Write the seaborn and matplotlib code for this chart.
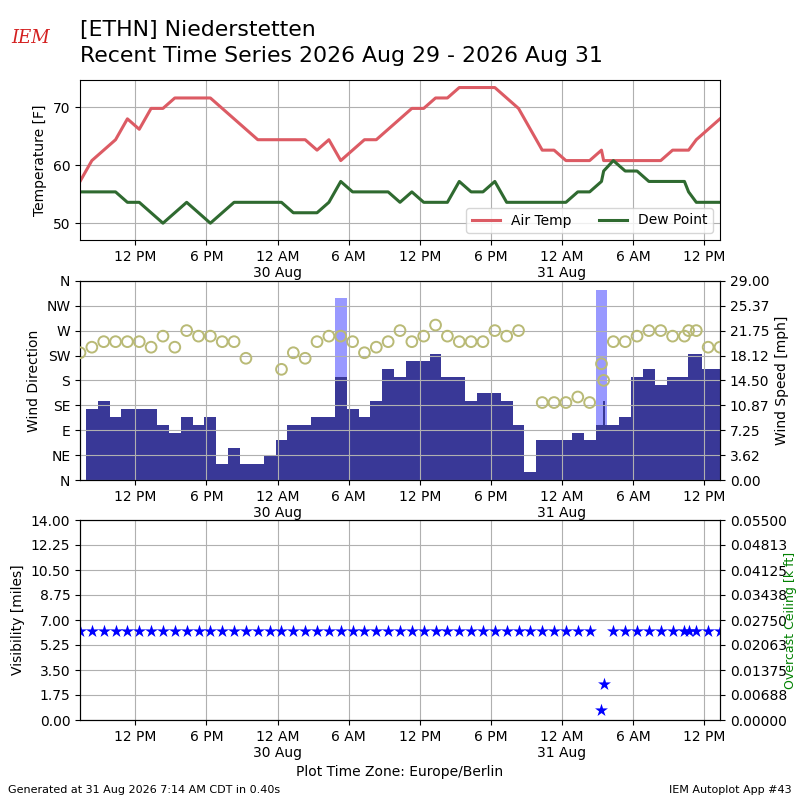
import numpy as np
import pandas as pd
import matplotlib
matplotlib.use("Agg")
import matplotlib.pyplot as plt
import matplotlib.dates as mdates
import seaborn as sns

nan = np.nan

# ---------------- data ----------------
station_title = "[ETHN] Niederstetten"
sub_title = "Recent Time Series 2026 Aug 29 - 2026 Aug 31"
footer_left = "Generated at 31 Aug 2026 7:14 AM CDT in 0.40s"
footer_right = "IEM Autoplot App #43"
tz_label = "Plot Time Zone: Europe/Berlin"

hourly_times = pd.date_range("2026-08-29 07:20", "2026-08-31 13:20", freq="h")
special_times = pd.to_datetime(["2026-08-31 03:31", "2026-08-31 10:41"])
obs_times = hourly_times.append(special_times).sort_values()

air_temp_f = [57.2, 60.8, 62.6, 64.4, 68.0, 66.2, 69.8, 69.8, 71.6, 71.6,
              71.6, 71.6, 69.8, 68.0, 66.2, 64.4, 64.4, 64.4, 64.4, 64.4,
              62.6, 64.4, 60.8, 62.6, 64.4, 64.4, 66.2, 68.0, 69.8, 69.8,
              71.6, 71.6, 73.4, 73.4, 73.4, 73.4, 71.6, 69.8, 66.2, 62.6,
              62.6, 60.8, 60.8, 60.8, 62.6, 60.8, 60.8, 60.8, 60.8, 60.8,
              60.8, 62.6, 62.6, 62.6, 64.4, 66.2, 68.0]

dew_point_f = [55.4, 55.4, 55.4, 55.4, 53.6, 53.6, 51.8, 50.0, 51.8, 53.6,
               51.8, 50.0, 51.8, 53.6, 53.6, 53.6, 53.6, 53.6, 51.8, 51.8,
               51.8, 53.6, 57.2, 55.4, 55.4, 55.4, 55.4, 53.6, 55.4, 53.6,
               53.6, 53.6, 57.2, 55.4, 55.4, 57.2, 53.6, 53.6, 53.6, 53.6,
               53.6, 53.6, 55.4, 55.4, 57.2, 59.0, 60.8, 59.0, 59.0, 57.2,
               57.2, 57.2, 57.2, 55.4, 53.6, 53.6, 53.6]

wind_speed_kt = [nan, 9, 10, 8, 9, 9, 9, 7, 6, 8,
                 7, 8, 2, 4, 2, 2, 3, 5, 7, 7,
                 8, 8, 13, 9, 8, 10, 14, 13, 15, 15,
                 16, 13, 13, 10, 11, 11, 10, 7, 1, 5,
                 5, 5, 6, 5, 7, 10, 7, 8, 13, 14,
                 12, 13, 13, 16, 16, 14, 14]

wind_gust_kt = [nan, nan, nan, nan, nan, nan, nan, nan, nan, nan,
                nan, nan, nan, nan, nan, nan, nan, nan, nan, nan,
                nan, nan, 23, nan, nan, nan, nan, nan, nan, nan,
                nan, nan, nan, nan, nan, nan, nan, nan, nan, nan,
                nan, nan, nan, nan, 24, nan, nan, nan, nan, nan,
                nan, nan, nan, nan, nan, nan, nan]

wind_dir_deg = [230, 240, 250, 250, 250, 250, 240, 260, 240, 270,
                260, 260, 250, 250, 220, nan, nan, 200, 230, 220,
                250, 260, 260, 250, 230, 240, 250, 270, 250, 260,
                280, 260, 250, 250, 250, 270, 260, 270, nan, 140,
                140, 140, 150, 140, 210, 180, 250, 250, 260, 270,
                270, 260, 260, 270, 270, 240, 240]

visibility_mi = [6.21, 6.21, 6.21, 6.21, 6.21, 6.21, 6.21, 6.21, 6.21, 6.21,
                 6.21, 6.21, 6.21, 6.21, 6.21, 6.21, 6.21, 6.21, 6.21, 6.21,
                 6.21, 6.21, 6.21, 6.21, 6.21, 6.21, 6.21, 6.21, 6.21, 6.21,
                 6.21, 6.21, 6.21, 6.21, 6.21, 6.21, 6.21, 6.21, 6.21, 6.21,
                 6.21, 6.21, 6.21, 6.21, 0.68, 2.49, 6.21, 6.21, 6.21, 6.21,
                 6.21, 6.21, 6.21, 6.21, 6.21, 6.21, 6.21]

x_tick_times = ["2026-08-29 12:00", "2026-08-29 18:00", "2026-08-30 00:00",
                "2026-08-30 06:00", "2026-08-30 12:00", "2026-08-30 18:00",
                "2026-08-31 00:00", "2026-08-31 06:00", "2026-08-31 12:00"]
x_tick_labels = ["12 PM", "6 PM", "12 AM\n30 Aug", "6 AM", "12 PM", "6 PM",
                 "12 AM\n31 Aug", "6 AM", "12 PM"]
temp_ticks = [50, 60, 70]
dir_tick_labels = ["N", "NE", "E", "SE", "S", "SW", "W", "NW", "N"]
speed_tick_labels = ["0.00", "3.62", "7.25", "10.87", "14.50", "18.12",
                     "21.75", "25.37", "29.00"]
vis_tick_labels = ["0.00", "1.75", "3.50", "5.25", "7.00", "8.75", "10.50",
                   "12.25", "14.00"]
ceil_tick_labels = ["0.00000", "0.00688", "0.01375", "0.02063", "0.02750",
                    "0.03438", "0.04125", "0.04813", "0.05500"]

# ---------------- derived ----------------
KT2MPH = 1.15078
xnum = mdates.date2num(obs_times.to_pydatetime())
spd_mph = np.array(wind_speed_kt, float) * KT2MPH
gst_mph = np.array(wind_gust_kt, float) * KT2MPH
is_special = np.asarray(obs_times.minute != 20)
bar_w = np.where(is_special, 10 / 1440.0, 1 / 24.0)
xticks = mdates.date2num(pd.to_datetime(x_tick_times).to_pydatetime())
xlim = (xnum.min(), xnum.max())

C_TEMP = "#dc5b64"
C_DEW = "#2f6a30"
C_SPD = "#393897"
C_GST = "#9999ff"
C_DIR = "#b9ba76"

fig = plt.figure(figsize=(8, 8), dpi=100)

def style_x(ax):
    ax.set_xlim(*xlim)
    ax.set_xticks(xticks)
    ax.set_xticklabels(x_tick_labels)
    ax.grid(True)

# ---- temperature panel ----
ax1 = fig.add_axes([0.1, 0.7, 0.8, 0.2])
sns.lineplot(x=xnum, y=air_temp_f, ax=ax1, color=C_TEMP, lw=2.2,
             label="Air Temp", estimator=None)
sns.lineplot(x=xnum, y=dew_point_f, ax=ax1, color=C_DEW, lw=2.2,
             label="Dew Point", estimator=None)
ax1.set_ylim(47.1, 74.7)
ax1.set_yticks(temp_ticks)
ax1.set_ylabel("Temperature [F]")
style_x(ax1)
ax1.legend(loc="lower right", ncol=2, fontsize=10)

# ---- wind panel ----
ax2 = fig.add_axes([0.1, 0.4, 0.8, 0.249])
ax2b = ax2.twinx()
ax2b.bar(xnum, gst_mph, width=bar_w, color=C_GST, zorder=2)
ax2b.bar(xnum, spd_mph, width=bar_w, color=C_SPD, zorder=3)
ax2b.set_ylim(0, 29)
ax2b.set_yticks(np.linspace(0, 29, 9))
ax2b.set_yticklabels(speed_tick_labels)
ax2b.set_ylabel("Wind Speed [mph]")
sns.scatterplot(x=xnum, y=wind_dir_deg, ax=ax2, marker="o", s=60,
                facecolors="none", edgecolor=C_DIR, linewidth=1.4, zorder=5)
ax2.set_zorder(ax2b.get_zorder() + 1)
ax2.patch.set_visible(False)
ax2.set_ylim(0, 360)
ax2.set_yticks(np.arange(0, 361, 45))
ax2.set_yticklabels(dir_tick_labels)
ax2.set_ylabel("Wind Direction")
style_x(ax2)

# ---- visibility panel ----
ax3 = fig.add_axes([0.1, 0.1, 0.8, 0.25])
ax3b = ax3.twinx()
sns.scatterplot(x=xnum, y=visibility_mi, ax=ax3, marker="*", s=95,
                color="blue", linewidth=0, zorder=5)
ax3.set_ylim(0, 14)
ax3.set_yticks(np.linspace(0, 14, 9))
ax3.set_yticklabels(vis_tick_labels)
ax3.set_ylabel("Visibility [miles]")
ax3.set_xlabel(tz_label, fontsize=10)
style_x(ax3)
ax3b.set_ylim(0, 0.055)
ax3b.set_yticks(np.linspace(0, 0.055, 9))
ax3b.set_yticklabels(ceil_tick_labels)
ax3b.set_ylabel("Overcast Ceiling [k ft]", color="green", labelpad=-2,
                fontsize=9)

# ---- titles / footer ----
fig.text(0.1, 0.9625, station_title, fontsize=15.8, va="center", ha="left")
fig.text(0.1, 0.93, sub_title, fontsize=15.8, va="center", ha="left")
fig.text(0.038, 0.953, "IEM", fontsize=13, color="#d42020", style="italic",
         family="DejaVu Serif", ha="center", va="center")
fig.text(0.01, 0.013, footer_left, fontsize=8, ha="left", va="center")
fig.text(0.99, 0.013, footer_right, fontsize=8, ha="right", va="center")

fig.savefig("out.png", dpi=100)
